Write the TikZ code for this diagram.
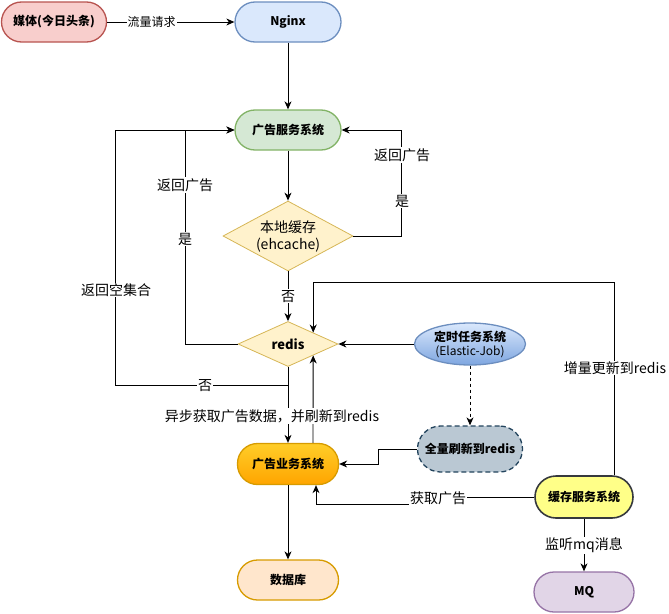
\documentclass[tikz,border=0pt]{standalone}
\usepackage{fontspec}
\setmainfont{Noto Sans CJK SC}
\usetikzlibrary{arrows.meta,shapes.geometric}

\definecolor{mediafill}{HTML}{F8CECC}\definecolor{mediadraw}{HTML}{B85450}
\definecolor{nginxfill}{HTML}{DAE8FC}\definecolor{nginxdraw}{HTML}{6C8EBF}
\definecolor{adsfill}{HTML}{D5E8D4}\definecolor{adsdraw}{HTML}{82B366}
\definecolor{decfill}{HTML}{FFF2CC}\definecolor{decdraw}{HTML}{D6B656}
\definecolor{jobbot}{HTML}{7EA6E0}
\definecolor{fullfill}{HTML}{BAC8D3}\definecolor{fulldraw}{HTML}{23445D}
\definecolor{biztop}{HTML}{FFCD28}\definecolor{bizbot}{HTML}{FFA500}\definecolor{bizdraw}{HTML}{D79B00}
\definecolor{dbfill}{HTML}{FFE6CC}
\definecolor{cachefill}{HTML}{FFFF88}\definecolor{cachedraw}{HTML}{36393D}
\definecolor{mqfill}{HTML}{E1D5E7}\definecolor{mqdraw}{HTML}{9673A6}

\tikzset{
  stadium/.style={draw, rectangle, rounded corners=20pt, minimum width=105pt, minimum height=40pt,
    inner sep=0pt, line width=1.3pt, font=\fontsize{12}{14}\selectfont\bfseries, align=center},
  decision/.style={draw=decdraw, fill=decfill, diamond, aspect=2, inner sep=0pt, line width=0.8pt, align=center},
  arr/.style={-{Stealth[length=8pt,width=7pt,inset=2.5pt]}, line width=0.9pt},
  lbl/.style={fill=white, inner sep=1pt, font=\fontsize{14}{16}\selectfont}
}

\begin{document}
\begin{tikzpicture}[x=1pt,y=-1pt]
\useasboundingbox (0,0) rectangle (669,613);

\node[stadium, draw=mediadraw, fill=mediafill] (media) at (54,22) {媒体(今日头条)};
\node[stadium, draw=nginxdraw, fill=nginxfill, minimum width=106pt] (nginx) at (288,22) {Nginx};
\node[stadium, draw=adsdraw, fill=adsfill, minimum width=106pt] (ads) at (288,130) {广告服务系统};
\node[decision, minimum width=130pt, minimum height=70pt, font=\fontsize{14}{17}\selectfont] (ehc) at (288,236) {本地缓存\\(ehcache)};
\node[decision, minimum width=100pt, minimum height=45pt, font=\fontsize{13}{15}\selectfont\bfseries] (redis) at (288,344) {redis};
\node[draw=nginxdraw, top color=nginxfill, bottom color=jobbot, ellipse, minimum width=111pt, minimum height=42pt,
  inner sep=0pt, line width=1.3pt, align=center, font=\fontsize{12}{14}\selectfont] (job) at (470,344) {\textbf{定时任务系统}\\(Elastic-Job)};
\node[stadium, draw=fulldraw, fill=fullfill, dash pattern=on 5pt off 3pt, minimum height=46pt, rounded corners=23pt] (full) at (470,449) {全量刷新到redis};
\node[stadium, draw=bizdraw, top color=biztop, bottom color=bizbot, minimum width=101pt, minimum height=41pt] (biz) at (288,464) {广告业务系统};
\node[stadium, draw=bizdraw, fill=dbfill, minimum width=101pt] (db) at (288,580) {数据库};
\node[stadium, draw=cachedraw, fill=cachefill, minimum width=98pt, minimum height=42pt, rounded corners=21pt, line width=1.6pt] (cache) at (584,497) {缓存服务系统};
\node[stadium, draw=mqdraw, fill=mqfill, minimum width=100pt] (mq) at (584,592) {MQ};

\draw[arr] (media) -- (nginx) node[lbl, pos=0.35, font=\fontsize{12}{14}\selectfont] (flow) {流量请求};
\draw[arr] (nginx) -- (ads);
\draw[arr] (ads) -- (ehc);
\draw[arr] (ehc.east) -- (401,236) |- (ads.east);
\draw[arr] (ehc) -- (redis) node[lbl, midway] (no1) {否};
\draw[arr] (redis.west) -| (185,130) -- (ads.west);
\draw[arr] (redis.south) -- (288,385) -| (115,130) -- (ads.west);
\draw[arr] (redis) -- (biz);
\draw[arr] ([xshift=25pt]biz.north) -- (redis.south east);
\draw[arr] (job) -- (redis);
\draw[arr, dash pattern=on 3pt off 3pt] (job) -- (full);
\draw[arr] (full.west) -- (378,449) |- (biz.east);
\draw[arr] (cache.west) -- (438,497) -- (438,504) -| ([xshift=28pt]biz.south);
\draw[arr] ([xshift=30pt]cache.north) -- (614,282) -| (redis.north east);
\draw[arr] (cache) -- (mq) node[lbl, midway] (listen) {监听mq消息};
\draw[arr] (biz) -- (db);

\node[lbl] (ret1) at (402,155) {返回广告};
\node[lbl] (yes1) at (402,201) {是};
\node[lbl] (ret2) at (185,185) {返回广告};
\node[lbl] (yes2) at (185,239) {是};
\node[lbl] (empty) at (116,290) {返回空集合};
\node[lbl] (no2) at (205,386) {否};
\node[lbl] (async) at (272,416) {异步获取广告数据，并刷新到redis};
\node[lbl] (incr) at (615,368) {增量更新到redis};
\node[lbl] (fetch) at (438,498) {获取广告};
\end{tikzpicture}
\end{document}
